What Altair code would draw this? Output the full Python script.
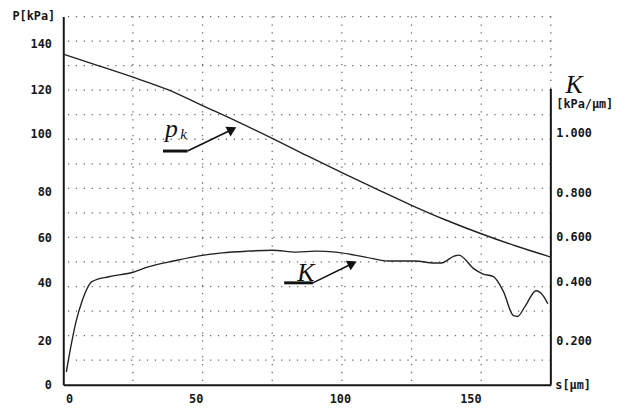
import altair as alt
import pandas as pd

# ---- data ----
s_p = [0, 12.5, 25, 37.5, 50, 62.5, 75, 87.5, 100, 112.5, 125, 137.5, 150, 162.5, 175]
p_k = [134.7, 130.0, 125.3, 120.2, 113.7, 107.2, 100.4, 93.3, 86.4, 79.7, 73.1, 67.0, 61.5, 56.5, 52.0]

s_k = [1.1, 2.8, 4.6, 6.7, 10.3, 16.3, 24.4, 30.5, 40, 48.2, 57, 65.9, 75, 83.6, 90.7, 97.8,
       108.4, 116.5, 126.1, 133.2, 135.7, 140.3, 142, 147.4, 150.5, 154.4, 158, 161.5, 163,
       165.8, 169.7, 172.2, 173.9]
k_vals = [0.052, 0.16, 0.258, 0.339, 0.42, 0.44, 0.456, 0.48, 0.505, 0.524, 0.537, 0.544, 0.548,
          0.54, 0.544, 0.54, 0.52, 0.504, 0.504, 0.496, 0.496, 0.524, 0.528, 0.472, 0.452, 0.44,
          0.379, 0.282, 0.278, 0.32, 0.383, 0.363, 0.33]

p_ticks = [0, 20, 40, 60, 80, 100, 120, 140]
k_ticks = [0.2, 0.4, 0.6, 0.8, 1.0]
s_ticks = [0, 50, 100, 150]
h_grid = [10, 20, 30, 40, 50, 60, 70, 80, 90, 100, 110, 120, 130, 140, 150]
v_grid = [25, 50, 75, 100, 125, 150, 175]

# annotation arrows (data coordinates)
arrow_id = ["pk", "pk", "K", "K"]
thick_s = [35.8, 44.6, 79.3, 89.6]
thick_p = [95.2, 95.2, 41.5, 41.5]
thin_s = [44.6, 60.6, 89.6, 103.8]
thin_p = [95.2, 104.0, 41.5, 49.4]
head_s = [60.6, 103.8]
head_p = [104.0, 49.4]
head_ang = [62, 64]

label_s = [36.5, 84.0, 180.3]
label_p = [100.8, 42.3, 119.0]
label_t = ["p", "K", "K"]
sub_s = [42.0]
sub_p = [100.0]
sub_t = ["k"]

# ---- chart ----
LF = "DejaVu Sans Mono"
SERIF = "Liberation Serif"
INK = "#161616"

x_scale = alt.Scale(domain=[0, 175], nice=False, zero=False)
p_scale = alt.Scale(domain=[0, 150], nice=False, zero=False)
k_scale = alt.Scale(domain=[0, 1.5], nice=False, zero=False)


def cond_offset(pairs, default):
    return {
        "condition": [
            {"test": f"abs(datum.value - {v}) < 0.001", "value": o} for v, o in pairs
        ],
        "value": default,
    }


common = dict(
    grid=False, ticks=False, tickSize=0, labelFont=LF, labelFontWeight="bold",
    labelFontSize=12, labelColor=INK, labelFlush=False, labelOverlap=False,
    titleFont=LF, titleFontWeight="bold", titleFontSize=12, titleColor=INK,
    titleAngle=0, titleAlign="left", titleBaseline="middle",
)

x_axis = alt.Axis(
    values=s_ticks, domainColor=INK, domainWidth=2, labelPadding=9,
    labelOffset=cond_offset([(0, 6), (50, -7), (100, -2)], -11),
    title="s[µm]", titleX=498, titleY=0, **common,
)
p_axis = alt.Axis(
    values=p_ticks, domainColor=INK, domainWidth=2, labelPadding=12,
    labelOffset=cond_offset([(0, 0), (20, 5), (40, -4), (60, 0), (80, 3), (100, -6), (120, -1)], 3),
    title="P[kPa]", titleX=-52, titleY=-1, **common,
)
k_axis = alt.Axis(
    orient="right", values=k_ticks, format=".3f", domain=False, labelPadding=5,
    labelAlign="left",
    labelOffset=cond_offset([(0.2, 5), (0.4, -5), (0.6, -1), (0.8, 4)], -7),
    title="[kPa/µm]", titleX=5, titleY=88, **common,
)


def X(field="s"):
    return alt.X(f"{field}:Q", scale=x_scale, axis=x_axis)


def Y(field="P"):
    return alt.Y(f"{field}:Q", scale=p_scale, axis=p_axis)


dot = dict(stroke="#6a6a6a", strokeWidth=1.3, strokeDash=[1.3, 6.7])

hgrid = alt.Chart(pd.DataFrame({"P": h_grid})).mark_rule(**dot).encode(y=Y())
vgrid = alt.Chart(pd.DataFrame({"s": v_grid})).mark_rule(**dot).encode(x=X())
right_line = alt.Chart(pd.DataFrame({"s": [175], "P": [0], "P2": [120.5]})).mark_rule(
    stroke=INK, strokeWidth=2
).encode(x=X(), y=Y(), y2="P2:Q")

p_line = alt.Chart(pd.DataFrame({"s": s_p, "P": p_k})).mark_line(
    stroke="#222", strokeWidth=1.4, interpolate="monotone"
).encode(x=X(), y=Y())

thick = alt.Chart(pd.DataFrame({"id": arrow_id, "s": thick_s, "P": thick_p})).mark_line(
    stroke="#111", strokeWidth=3
).encode(x=X(), y=Y(), detail="id:N")
thin = alt.Chart(pd.DataFrame({"id": arrow_id, "s": thin_s, "P": thin_p})).mark_line(
    stroke="#111", strokeWidth=1.6
).encode(x=X(), y=Y(), detail="id:N")
heads = alt.Chart(pd.DataFrame({"s": head_s, "P": head_p, "a": head_ang})).mark_point(
    shape="triangle-up", filled=True, size=120, color="#111", opacity=1
).encode(x=X(), y=Y(), angle=alt.Angle("a:Q", scale=None))
labels = alt.Chart(pd.DataFrame({"s": label_s, "P": label_p, "t": label_t})).mark_text(
    font=SERIF, fontStyle="italic", fontSize=26, align="left", baseline="alphabetic", color="#111"
).encode(x=X(), y=Y(), text="t:N")
sub = alt.Chart(pd.DataFrame({"s": sub_s, "P": sub_p, "t": sub_t})).mark_text(
    font=SERIF, fontStyle="italic", fontSize=15, align="left", baseline="alphabetic", color="#111"
).encode(x=X(), y=Y(), text="t:N")

left = alt.layer(hgrid, vgrid, right_line, p_line, thick, thin, heads, labels, sub)

k_line = alt.Chart(pd.DataFrame({"s": s_k, "K": k_vals})).mark_line(
    stroke="#222", strokeWidth=1.4, interpolate="monotone"
).encode(
    x=X(),
    y=alt.Y("K:Q", scale=k_scale, axis=k_axis),
)

chart = (
    alt.layer(left, k_line)
    .resolve_scale(y="independent")
    .properties(
        width=494,
        height=373,
        autosize=alt.AutoSizeParams(type="none"),
        padding={"left": 56, "top": 6, "right": 65, "bottom": 25},
        background="white",
    )
    .configure_view(stroke=None)
)

chart.save("out.html", embed_options={"renderer": "svg", "actions": False})
